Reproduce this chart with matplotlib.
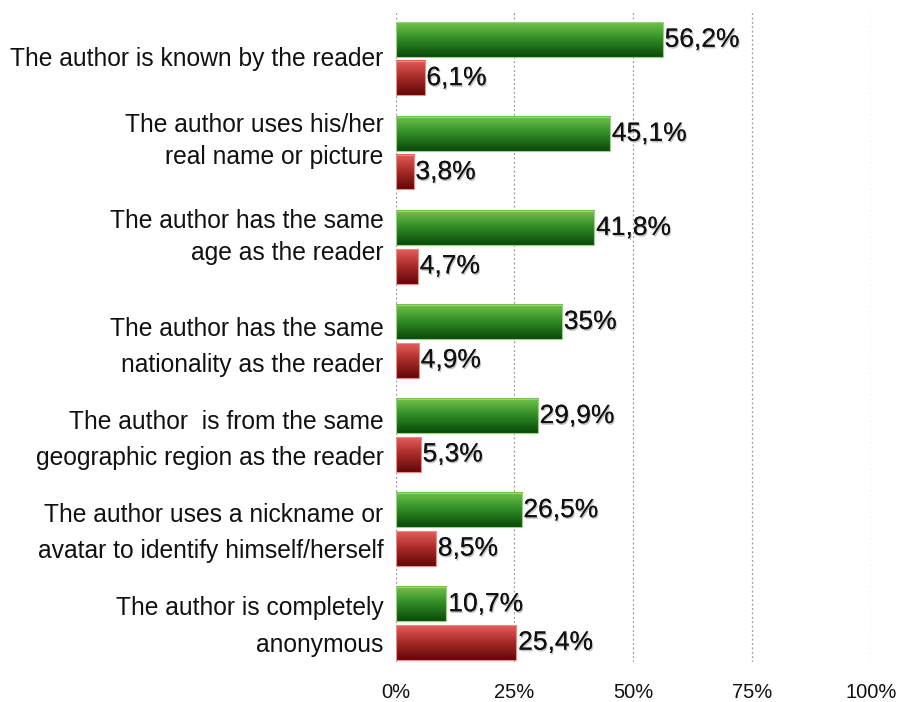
import numpy as np
import matplotlib
matplotlib.use("Agg")
import matplotlib.pyplot as plt
import matplotlib.patheffects as pe
import matplotlib.transforms as mtransforms
from matplotlib.colors import LinearSegmentedColormap

plt.rcParams['font.family'] = ['Liberation Sans', 'DejaVu Sans']

categories = [
    "The author is known by the reader",
    "The author uses his/her\nreal name or picture",
    "The author has the same\nage as the reader",
    "The author has the same\nnationality as the reader",
    "The author  is from the same\ngeographic region as the reader",
    "The author uses a nickname or\navatar to identify himself/herself",
    "The author is completely\nanonymous",
]
green_vals = [56.2, 45.1, 41.8, 35.0, 29.9, 26.5, 10.7]
red_vals = [6.1, 3.8, 4.7, 4.9, 5.3, 8.5, 25.4]
green_labels = ["56,2%", "45,1%", "41,8%", "35%", "29,9%", "26,5%", "10,7%"]
red_labels = ["6,1%", "3,8%", "4,7%", "4,9%", "5,3%", "8,5%", "25,4%"]
x_ticks = [0, 25, 50, 75, 100]
x_ticklabels = ["0%", "25%", "50%", "75%", "100%"]

# per-label nudge (pixels, + is down) and line spacing for the category texts
label_shift = [0, -12, -10, 6, 5, 4, 3]
label_spacing = [1.0, 1.45, 1.45, 1.62, 1.64, 1.64, 1.70]

green_cmap = LinearSegmentedColormap.from_list("g", ["#70c44a", "#2f8a24", "#0a4a0a"])
red_cmap = LinearSegmentedColormap.from_list("r", ["#e65d58", "#a52a28", "#620808"])

fig = plt.figure(figsize=(8.99, 7.02), dpi=100)
ax = fig.add_axes([395.5 / 899, 1 - 662 / 702, (871 - 395.5) / 899, 652 / 702])

n = len(categories)
centers = np.arange(n)[::-1].astype(float)
h = 0.367
off = 0.204

shadow = [pe.withSimplePatchShadow(offset=(0.8, -1.2), shadow_rgbFace="#777777", alpha=0.45), pe.Normal()]
grad = np.linspace(0, 1, 64).reshape(-1, 1)


def gradient_bars(ys, vals, cmap, edge):
    bars = ax.barh(ys, vals, height=h, facecolor="none", edgecolor=edge, linewidth=0.8, zorder=3)
    for bar in bars:
        x0, y0 = bar.get_x(), bar.get_y()
        ax.imshow(grad, extent=(x0, x0 + bar.get_width(), y0, y0 + bar.get_height()),
                  origin="upper", cmap=cmap, aspect="auto", zorder=2, interpolation="bilinear")
    return bars


gradient_bars(centers + off, green_vals, green_cmap, "#9bd27e")
gradient_bars(centers - off, red_vals, red_cmap, "#f08a86")

for y, v, lab in zip(centers + off, green_vals, green_labels):
    ax.text(v + 0.4, y, lab, va="center", ha="left", fontsize=19, color="#111111",
            path_effects=shadow, zorder=4)
for y, v, lab in zip(centers - off, red_vals, red_labels):
    ax.text(v + 0.4, y, lab, va="center", ha="left", fontsize=19, color="#111111",
            path_effects=shadow, zorder=4)

# category labels, right aligned just left of the zero line
ytrans = ax.get_yaxis_transform()
for y, lab, dy, ls in zip(centers, categories, label_shift, label_spacing):
    tr = mtransforms.offset_copy(ytrans, fig=fig, x=-12, y=-dy, units="dots")
    ax.text(0, y, lab, transform=tr, ha="right", va="center", multialignment="right",
            fontsize=17.7, color="#111111", linespacing=ls)

ax.set_xlim(0, 100)
ax.set_ylim(-0.41, 6.52)
ax.set_xticks(x_ticks)
ax.set_xticklabels(x_ticklabels, fontsize=14.5, color="#111111")
ax.set_yticks([])
ax.tick_params(axis="x", length=0, pad=15)
for s in ax.spines.values():
    s.set_visible(False)
for x in x_ticks:
    ax.axvline(x, color="#999999", linestyle=(0, (1.5, 2)), linewidth=0.9, zorder=1)

fig.savefig("out.png", dpi=100, facecolor="white")
